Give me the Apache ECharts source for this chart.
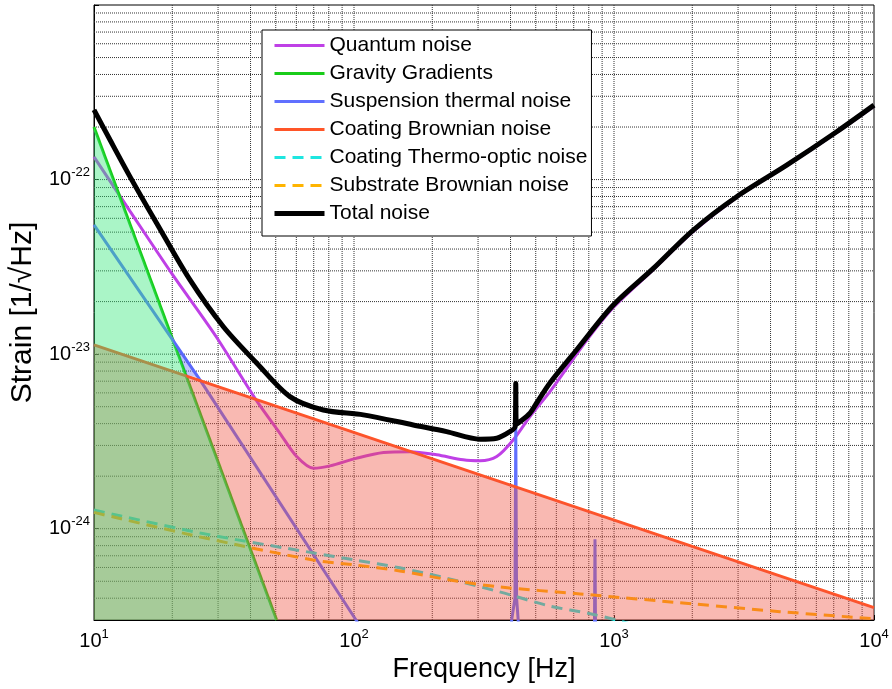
<!DOCTYPE html>
<html>
<head>
<meta charset="utf-8">
<script src="https://cdn.jsdelivr.net/npm/echarts@6/dist/echarts.min.js"></script>
<style>
html,body{margin:0;padding:0;background:#fff}
#chart{width:892px;height:689px}
</style>
</head>
<body>
<div id="chart"></div>
<script>
// noise budget curves, [frequency Hz, strain 1/sqrt(Hz)]
var quantumNoise = [
    [10, 1.35e-22], [13.75, 6.6e-23], [19.9, 2.9e-23], [29.6, 1.25e-23], [42, 5.47e-24],
    [51.9, 3.52e-24], [60.2, 2.59e-24], [69.8, 2.22e-24], [80.9, 2.29e-24], [102, 2.53e-24],
    [130, 2.73e-24], [164, 2.76e-24], [208, 2.65e-24], [263, 2.48e-24], [305, 2.45e-24],
    [354, 2.59e-24], [410, 3.23e-24], [475, 4.39e-24], [567, 6.1e-24], [785, 1.2e-23],
    [994, 1.85e-23], [1417, 3.05e-23], [2018, 5.05e-23], [2964, 7.9e-23], [4616, 1.2e-22],
    [7187, 1.86e-22], [10000, 2.63e-22]
];
var gravityGradients = [[10, 2.0e-22], [50.4, 3.0e-25]];
var suspensionThermal = [
    [10, 5.5e-23], [25.6, 7.1e-24], [101.8, 3.0e-25], [200, 7e-26], [400, 2e-25],
    [404, 3e-25], [416, 4e-25], [419, 3.8e-24], [422, 4e-25], [428, 3e-25], [432, 2e-25],
    [600, 1e-26], [840, 2e-25], [845, 8.7e-25], [850, 2e-25], [1000, 1e-26]
];
var coatingBrownian = [[10, 1.13e-23], [10000, 3.53e-25]];
var coatingThermoOptic = [
    [10, 1.28e-24], [25.6, 9.46e-25], [69.7, 7.27e-25], [101, 6.62e-25], [150, 5.97e-25],
    [233, 5.16e-25], [363, 4.35e-25], [565, 3.61e-25], [810, 3.26e-25], [1019, 3.0e-25],
    [1200, 2.8e-25]
];
var substrateBrownian = [
    [10, 1.24e-24], [25.6, 8.97e-25], [69.7, 6.62e-25], [101, 6.2e-25], [150, 5.73e-25],
    [233, 5.09e-25], [363, 4.64e-25], [741, 4.23e-25], [2014, 3.71e-25], [4345, 3.35e-25],
    [10000, 3.05e-25]
];
var totalNoise = [
    [10, 2.51e-22], [11.52, 1.69e-22], [13.75, 1.04e-22], [17.42, 5.62e-23], [23.4, 2.66e-23],
    [31.4, 1.44e-23], [42.3, 8.87e-24], [56.7, 5.71e-24], [76.2, 4.79e-24], [108.6, 4.49e-24],
    [169, 3.93e-24], [227, 3.6e-24], [305, 3.26e-24], [354, 3.3e-24], [398, 3.6e-24],
    [417, 3.85e-24], [419, 6.8e-24], [421, 3.95e-24], [475, 4.59e-24], [504, 5.25e-24],
    [567, 6.84e-24], [719, 1.06e-23], [994, 1.91e-23], [1417, 3.1e-23], [2018, 5.14e-23],
    [2964, 7.98e-23], [4616, 1.21e-22], [7187, 1.88e-22], [10000, 2.67e-22]
];
// region where suspension noise dominates (small shaded patch)
var suspensionPatch = [[20, 1.24e-23], [25.6, 7.3e-24], [22.8, 7.6e-24]];

var xMin = 10, xMax = 10000;
var yMin = 3e-25, yMax = 1e-21;
var xDecades = [10, 100, 1000];
var yDecades = [1e-25, 1e-24, 1e-23, 1e-22];
var gridSteps = [1, 2, 3, 4, 5, 6, 7, 8, 9];

var FONT = '"Liberation Sans", Arial, Helvetica, sans-serif';

// dotted grid at every 1..9 x 10^n, one small series per line
var gridSeries = [];
function addGridLine(a, b) {
    gridSeries.push({
        type: 'line', data: [a, b], z: 1, silent: true, symbol: 'none',
        lineStyle: {type: [1, 1], color: '#333', width: 1}
    });
}
xDecades.forEach(function (d) {
    gridSteps.forEach(function (m) {
        var v = d * m;
        if (v > xMin && v < xMax) addGridLine([v, yMin], [v, yMax]);
    });
});
yDecades.forEach(function (d) {
    gridSteps.forEach(function (m) {
        var v = d * m;
        if (v > yMin * 1.01 && v < yMax * 0.99) addGridLine([xMin, v], [xMax, v]);
    });
});

function powLabel(v) {
    if (!(v > 0)) return '';
    var e = Math.log10(v);
    if (!isFinite(e) || Math.abs(e - Math.round(e)) > 1e-6) return '';
    return '{b|10}{s|' + Math.round(e) + '}';
}
function yLabel(v) {
    if (!(v > 0) || v >= yMax * 0.99) return '';
    return powLabel(v);
}
var labelRich = {
    b: {fontSize: 20, fontFamily: FONT, color: '#000'},
    s: {fontSize: 13, fontFamily: FONT, color: '#000', padding: [0, 0, 14, 0]}
};

function fillSeries(id, pts, color, closed) {
    return {
        id: id,
        type: 'custom',
        coordinateSystem: 'cartesian2d',
        silent: true,
        clip: true,
        z: 3,
        data: pts,
        renderItem: function (params, api) {
            if (params.dataIndex !== 0) return null;
            var poly = pts.map(function (p) { return api.coord(p); });
            if (!closed) {
                poly.push(api.coord([pts[pts.length - 1][0], yMin]));
                poly.push(api.coord([pts[0][0], yMin]));
            }
            return {type: 'polygon', shape: {points: poly}, style: {fill: color}};
        }
    };
}

function lineSeries(name, data, color, width, dashed, z, smooth) {
    return {
        name: name,
        type: 'line',
        data: data,
        symbol: 'none',
        clip: true,
        smooth: smooth || false,
        z: z || 2,
        lineStyle: {color: color, width: width, type: dashed ? [11, 7] : 'solid'},
        itemStyle: {color: color}
    };
}

var chart = echarts.init(document.getElementById('chart'));
var option = {
    animation: false,
    grid: {
        left: 94, right: 18, top: 5, bottom: 69, outerBoundsMode: 'none',
        show: true, borderColor: '#000', borderWidth: 1
    },
    legend: {
        left: 262, top: 30, orient: 'vertical', z: 10,
        backgroundColor: '#fff', borderColor: '#000', borderWidth: 1,
        padding: [5, 4, 12, 10],
        itemWidth: 50, itemHeight: 14, itemGap: 7,
        itemStyle: {opacity: 0},
        lineStyle: {width: 3},
        textStyle: {fontSize: 21, lineHeight: 21, fontFamily: FONT, color: '#000'},
        data: ['Quantum noise', 'Gravity Gradients', 'Suspension thermal noise', 'Coating Brownian noise',
            'Coating Thermo-optic noise', 'Substrate Brownian noise',
            {name: 'Total noise', lineStyle: {width: 5}}]
    },
    xAxis: {
        type: 'log', logBase: 10, min: xMin, max: xMax,
        name: 'Frequency [Hz]', nameLocation: 'middle', nameGap: 36, nameMoveOverlap: false,
        nameTextStyle: {fontSize: 27, fontFamily: FONT, color: '#000'},
        axisLine: {lineStyle: {color: '#000', width: 1}},
        axisTick: {inside: true, length: 5, lineStyle: {color: '#000'}},
        axisLabel: {margin: 8, formatter: powLabel, rich: labelRich},
        splitLine: {show: false}
    },
    yAxis: {
        type: 'log', logBase: 10, min: yMin, max: yMax,
        name: 'Strain [1/\u221AHz]', nameLocation: 'middle', nameGap: 56, nameRotate: 90, nameMoveOverlap: false,
        nameTextStyle: {fontSize: 30, fontFamily: FONT, color: '#000'},
        axisLine: {lineStyle: {color: '#000', width: 1}},
        axisTick: {inside: true, length: 5, lineStyle: {color: '#000'}},
        axisLabel: {margin: 4, showMinLabel: false, showMaxLabel: false, formatter: yLabel, rich: labelRich},
        splitLine: {show: false}
    },
    series: gridSeries.concat([
        lineSeries('Quantum noise', quantumNoise, '#bf40e6', 3, false, 2, 0.3),
        lineSeries('Gravity Gradients', gravityGradients, '#19cc19', 3),
        lineSeries('Suspension thermal noise', suspensionThermal, '#6070ff', 3),
        lineSeries('Coating Brownian noise', coatingBrownian, '#ff5528', 3),
        lineSeries('Coating Thermo-optic noise', coatingThermoOptic, '#1ee6e0', 3, true, 2, 0.3),
        lineSeries('Substrate Brownian noise', substrateBrownian, '#ffb400', 3, true, 2, 0.3),
        fillSeries('fillCoating', coatingBrownian, 'rgba(240,80,62,0.4)', false),
        fillSeries('fillGravity', gravityGradients, 'rgba(48,230,120,0.41)', false),
        fillSeries('fillSuspension', suspensionPatch, 'rgba(80,90,240,0.35)', true),
        lineSeries('Total noise', totalNoise, '#000', 5, false, 4, 0.3)
    ])
};
chart.setOption(option);
</script>
</body>
</html>
